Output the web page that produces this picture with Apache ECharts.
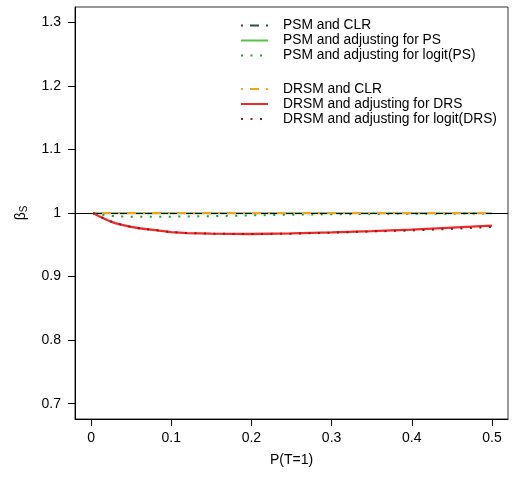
<!DOCTYPE html>
<html>
<head>
<meta charset="utf-8">
<script src="https://cdn.jsdelivr.net/npm/echarts@6/dist/echarts.min.js"></script>
<style>html,body{margin:0;padding:0;background:#fff}#c{width:512px;height:477px}</style>
</head>
<body>
<div id="c"></div>
<script>
// ---- data ----
const pT = [0.0025, 0.01, 0.02, 0.03, 0.04, 0.05, 0.06, 0.08, 0.1, 0.12, 0.15, 0.2, 0.25, 0.3, 0.35, 0.4, 0.45, 0.5];
const psmCLR      = [1, 1, 1, 1, 1, 1, 1, 1, 1, 1, 1, 1, 1, 1, 1, 1, 1, 1];
const psmPS       = [0.9995, 0.9995, 0.9995, 0.9995, 0.9995, 0.9995, 0.9995, 0.9995, 0.9995, 0.9995, 0.9995, 0.9995, 0.9995, 0.9995, 0.9995, 0.9995, 0.9995, 0.9995];
const psmLogitPS  = [1.0, 0.998, 0.996, 0.995, 0.9945, 0.994, 0.994, 0.994, 0.9942, 0.9945, 0.995, 0.9963, 0.9973, 0.998, 0.9985, 0.9988, 0.999, 0.9992];
const drsmCLR     = [1, 1, 1, 1, 1, 1, 1, 1, 1, 1, 1, 1, 1, 1, 1, 1, 1, 1];
const drsmDRS     = [1.0, 0.995, 0.989, 0.984, 0.981, 0.978, 0.976, 0.973, 0.970, 0.9685, 0.9675, 0.967, 0.968, 0.9695, 0.9715, 0.974, 0.977, 0.980];
const drsmLogitDRS= [1.0, 0.995, 0.989, 0.984, 0.981, 0.978, 0.976, 0.973, 0.970, 0.9685, 0.9675, 0.9668, 0.9675, 0.969, 0.971, 0.9725, 0.975, 0.978];
const xTicks = [0, 0.1, 0.2, 0.3, 0.4, 0.5];
const yTicks = [0.7, 0.8, 0.9, 1.0, 1.1, 1.2, 1.3];
const names = ['PSM and CLR', 'PSM and adjusting for PS', 'PSM and adjusting for logit(PS)',
               'DRSM and CLR', 'DRSM and adjusting for DRS', 'DRSM and adjusting for logit(DRS)'];

const pair = arr => pT.map((x, i) => [x, arr[i]]);
const FONT = 'Liberation Sans, Arial, sans-serif';
const dotdash = [2, 7, 9, 7];
const dotted = [2, 7.5];

function ser(name, arr, color, type, width, z) {
  return {
    name, type: 'line', data: pair(arr), symbol: 'none', showSymbol: false,
    lineStyle: { color, width, type, cap: 'butt' }, itemStyle: { color },
    z, animation: false, silent: true
  };
}

const chart = echarts.init(document.getElementById('c'), null, { renderer: 'canvas' });
const series = [
  ser(names[1], psmPS, '#5cbf4c', 'solid', 2, 2),
  ser(names[0], psmCLR, '#2f4f4f', dotdash, 2, 3),
  ser(names[2], psmLogitPS, '#1f9a3a', dotted, 2, 4),
  ser(names[3], drsmCLR, '#f5a31a', dotdash, 2, 5),
  ser(names[4], drsmDRS, '#ee2a2a', 'solid', 2.3, 6),
  ser(names[5], drsmLogitDRS, '#8b1a1a', dotted, 2, 7)
];
series.push({
  type: 'line', data: [], z: 10, silent: true,
  markLine: { silent: true, symbol: 'none', label: { show: false },
    lineStyle: { color: '#000', width: 1, type: 'solid' }, data: [{ yAxis: 1 }] }
});

const legendCommon = {
  orient: 'vertical', left: 240, padding: 0, itemWidth: 27, itemHeight: 14, itemGap: 1,
  selectedMode: false,
  itemStyle: { opacity: 0 },
  lineStyle: { width: 2 },
  textStyle: { fontFamily: FONT, fontSize: 13.8, color: '#000', padding: [0, 0, 0, 10] }
};

chart.setOption({
  animation: false,
  backgroundColor: '#fff',
  grid: { left: 75, right: 4, top: 7, bottom: 58, show: true, borderColor: '#333', borderWidth: 1, containLabel: false },
  legend: [
    Object.assign({}, legendCommon, { top: 18.5, data: names.slice(0, 3) }),
    Object.assign({}, legendCommon, { top: 82, data: names.slice(3) })
  ],
  xAxis: {
    type: 'value', min: -0.02, max: 0.52,
    name: 'P(T=1)', nameLocation: 'middle', nameGap: 34,
    nameTextStyle: { fontFamily: FONT, fontSize: 14, color: '#000' },
    axisLine: { show: true, onZero: false, lineStyle: { color: '#000', width: 1 } },
    axisTick: { show: true, inside: false, length: 7, lineStyle: { color: '#000' }, customValues: xTicks },
    axisLabel: { margin: 12, fontFamily: FONT, fontSize: 14, color: '#000', customValues: xTicks,
      formatter: v => String(Math.round(v * 10) / 10) },
    splitLine: { show: false }
  },
  yAxis: {
    type: 'value', min: 0.676, max: 1.324,
    name: '{b|β}{s|S}', nameLocation: 'middle', nameGap: 46, nameRotate: 90,
    nameTextStyle: { fontFamily: FONT, fontSize: 14, color: '#000',
      rich: { b: { fontFamily: FONT, fontSize: 14, color: '#000' },
              s: { fontFamily: FONT, fontSize: 10, color: '#000', verticalAlign: 'bottom', padding: [6, 0, 0, 0] } } },
    axisLine: { show: true, onZero: false, lineStyle: { color: '#000', width: 1 } },
    axisTick: { show: true, inside: false, length: 7, lineStyle: { color: '#000' }, customValues: yTicks },
    axisLabel: { margin: 14, fontFamily: FONT, fontSize: 14, color: '#000', customValues: yTicks,
      formatter: v => String(Math.round(v * 10) / 10) },
    splitLine: { show: false }
  },
  series
});
</script>
</body>
</html>
